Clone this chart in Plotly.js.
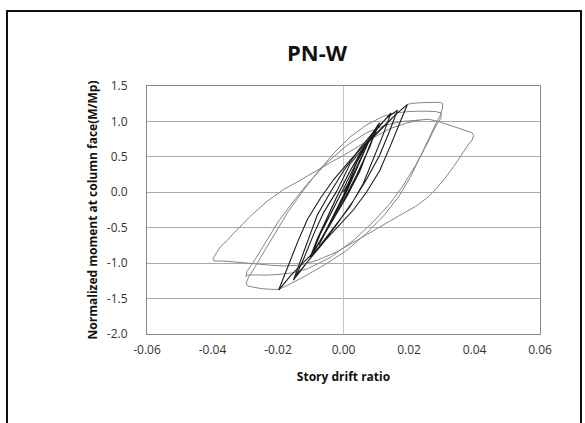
<!DOCTYPE html>
<html>
<head>
<meta charset="utf-8">
<script src="https://cdn.plot.ly/plotly-3.0.1.min.js"></script>
<style>html,body{margin:0;padding:0;background:#fff;}#chart{width:585px;height:423px;}</style>
</head>
<body>
<div id="chart"></div>
<script>
// Tick labels
const xTickVals = [-0.06, -0.04, -0.02, 0.00, 0.02, 0.04, 0.06];
const xTickText = ["-0.06", "-0.04", "-0.02", "0.00", "0.02", "0.04", "0.06"];
const yTickVals = [-2.0, -1.5, -1.0, -0.5, 0.0, 0.5, 1.0, 1.5];
const yTickText = ["-2.0", "-1.5", "-1.0", "-0.5", "0.0", "0.5", "1.0", "1.5"];

// Small elastic cycles (story drift ratio, M/Mp)
const driftElastic  = [0, 0.0038, 0.0002, -0.0038, -0.0002, 0.005, 0.0006, -0.005, -0.0004, 0.0075, 0.001, -0.0075, -0.0008, 0.0005];
const momentElastic = [0, 0.32, -0.06, -0.42, -0.08, 0.45, -0.02, -0.52, -0.1, 0.70, 0.02, -0.74, -0.12, 0.0];

// 0.01 cycles
const drift010  = [0.0005, 0.004, 0.008, 0.011, 0.008, 0.005, 0.001, -0.003, -0.007, -0.0102, -0.008, -0.005, -0.002, 0.002, 0.006, 0.0105, 0.008, 0.004, 0.0, -0.004, -0.0095, -0.007, -0.003, 0.0];
const moment010 = [0.0, 0.42, 0.75, 0.98, 0.66, 0.30, -0.06, -0.38, -0.68, -0.92, -0.66, -0.36, -0.06, 0.30, 0.62, 0.95, 0.64, 0.24, -0.12, -0.45, -0.86, -0.58, -0.22, 0.05];

// 0.015 cycles
const drift015  = [0.0, 0.005, 0.010, 0.0145, 0.012, 0.009, 0.006, 0.002, -0.003, -0.008, -0.012, -0.0153, -0.013, -0.0105, -0.008, -0.004, 0.0, 0.005, 0.010, 0.0135, 0.0165, 0.0142, 0.011, 0.007, 0.003, -0.002, -0.007, -0.011, -0.0145, -0.012, -0.009, -0.006, -0.002];
const moment015 = [0.05, 0.52, 0.88, 1.12, 0.80, 0.45, 0.12, -0.20, -0.50, -0.80, -1.03, -1.24, -0.95, -0.62, -0.32, 0.0, 0.30, 0.62, 0.90, 1.06, 1.16, 0.88, 0.52, 0.18, -0.12, -0.45, -0.76, -0.98, -1.18, -0.92, -0.58, -0.28, 0.02];

// 0.02 cycles
const drift020  = [-0.002, 0.002, 0.007, 0.012, 0.016, 0.0195, 0.017, 0.014, 0.011, 0.007, 0.003, -0.002, -0.007, -0.012, -0.016, -0.0198, -0.017, -0.014, -0.011, -0.007, -0.003, 0.002, 0.007, 0.012, 0.016, 0.0195];
const moment020 = [0.02, 0.40, 0.68, 0.92, 1.10, 1.24, 0.95, 0.62, 0.30, 0.0, -0.25, -0.50, -0.75, -0.98, -1.17, -1.38, -1.05, -0.70, -0.38, -0.08, 0.18, 0.45, 0.70, 0.93, 1.10, 1.24];

// 0.03 cycles
const drift030  = [0.0195, 0.021, 0.024, 0.027, 0.0295, 0.0303, 0.0302, 0.0295, 0.028, 0.026, 0.0235, 0.0205, 0.017, 0.0125, 0.007, 0.001, -0.006, -0.012, -0.017, -0.0198, -0.022, -0.025, -0.0275, -0.0293, -0.0297, -0.029, -0.027, -0.024, -0.0205, -0.017, -0.013, -0.008, -0.003, 0.002, 0.007, 0.012, 0.016, 0.020, 0.024, 0.028, 0.0298, 0.0298, 0.028, 0.0255, 0.022, 0.018, 0.014, 0.009, 0.003, -0.004, -0.011, -0.016, -0.020, -0.024, -0.027, -0.0293, -0.0298];
const moment030 = [1.24, 1.255, 1.265, 1.27, 1.27, 1.25, 1.18, 1.08, 0.95, 0.75, 0.50, 0.22, -0.05, -0.32, -0.58, -0.82, -1.03, -1.19, -1.31, -1.37, -1.37, -1.36, -1.34, -1.32, -1.28, -1.20, -1.05, -0.82, -0.55, -0.28, -0.02, 0.28, 0.55, 0.78, 0.95, 1.07, 1.12, 1.14, 1.145, 1.14, 1.12, 1.05, 0.92, 0.68, 0.38, 0.08, -0.17, -0.42, -0.68, -0.92, -1.08, -1.14, -1.16, -1.17, -1.165, -1.17, -1.19];

// 0.04 cycle
const drift040  = [-0.0298, -0.0295, -0.027, -0.0235, -0.020, -0.016, -0.011, -0.005, 0.001, 0.007, 0.013, 0.018, 0.022, 0.026, 0.029, 0.031, 0.034, 0.0365, 0.038, 0.0393, 0.0397, 0.0393, 0.0382, 0.036, 0.0336, 0.031, 0.0285, 0.0255, 0.022, 0.017, 0.0105, 0.004, -0.002, -0.008, -0.0135, -0.018, -0.022, -0.026, -0.030, -0.034, -0.037, -0.0395, -0.0398, -0.0388, -0.0376, -0.0355, -0.0336, -0.031, -0.0285, -0.0234, -0.0183, -0.0132, -0.0092, -0.004, 0.0, 0.0071, 0.0143, 0.0194, 0.0235];
const moment040 = [-1.19, -1.12, -0.95, -0.68, -0.42, -0.17, 0.12, 0.42, 0.66, 0.84, 0.95, 1.0, 1.02, 1.03, 1.0, 0.97, 0.93, 0.89, 0.87, 0.84, 0.80, 0.74, 0.68, 0.52, 0.36, 0.20, 0.06, -0.08, -0.20, -0.33, -0.50, -0.68, -0.84, -0.96, -1.03, -1.04, -1.03, -1.01, -0.99, -0.98, -0.97, -0.97, -0.93, -0.85, -0.77, -0.68, -0.58, -0.46, -0.34, -0.13, 0.04, 0.17, 0.28, 0.42, 0.52, 0.72, 0.90, 0.98, 1.02];

const dark = '#1c1c1c';
const grey = '#858585';
function tr(x, y, color, w) {
  return {x: x, y: y, type: 'scatter', mode: 'lines', line: {color: color, width: w}, hoverinfo: 'skip', showlegend: false};
}
const data = [
  tr(drift040, moment040, grey, 1),
  tr(drift030, moment030, grey, 1),
  tr(drift020, moment020, dark, 1.1),
  tr(drift015, moment015, dark, 1.1),
  tr(drift010, moment010, dark, 1.2),
  tr(driftElastic, momentElastic, dark, 1.4)
];

const fnt = 'Open Sans, Noto Sans, sans-serif';
const layout = {
  width: 585, height: 423,
  margin: {l: 147, r: 45, t: 86, b: 89},
  paper_bgcolor: '#ffffff', plot_bgcolor: '#ffffff',
  font: {family: fnt, color: '#333333', size: 12},
  title: {text: '<b>PN-W</b>', font: {family: fnt, size: 22, color: '#111111'}, x: 317 / 585, xanchor: 'center', xref: 'container', y: 1 - 53 / 423, yanchor: 'middle', yref: 'container'},
  xaxis: {
    range: [-0.06, 0.06], tickvals: xTickVals, ticktext: xTickText,
    showgrid: false, zeroline: true, zerolinecolor: '#c6c6c6', zerolinewidth: 1,
    showline: true, linecolor: '#8a8a8a', linewidth: 1, mirror: true,
    ticks: 'outside', ticklen: 5, tickcolor: 'rgba(0,0,0,0)',
    tickfont: {family: fnt, size: 12, color: '#333'},
    title: {text: '<b>Story drift ratio</b>', font: {family: fnt, size: 12, color: '#111'}, standoff: 15}
  },
  yaxis: {
    range: [-2.0, 1.5], tickvals: yTickVals, ticktext: yTickText,
    showgrid: true, gridcolor: '#a9a9a9', gridwidth: 1, zeroline: false,
    showline: true, linecolor: '#8a8a8a', linewidth: 1, mirror: true,
    ticks: 'outside', ticklen: 16, tickcolor: 'rgba(0,0,0,0)',
    tickfont: {family: fnt, size: 12, color: '#333'},
    title: {text: '<b>Normalized moment at column face(M/Mp)</b>', font: {family: fnt, size: 12, color: '#111'}, standoff: 6}
  },
  shapes: [{
    type: 'rect', xref: 'paper', yref: 'paper',
    x0: (7 - 147) / 393, x1: (581 - 147) / 393,
    y0: (334 - 440) / 248, y1: (334 - 11) / 248,
    line: {color: '#111111', width: 2}, fillcolor: 'rgba(0,0,0,0)', layer: 'below'
  }]
};
Plotly.newPlot('chart', data, layout, {displayModeBar: false, staticPlot: true});
</script>
</body>
</html>
